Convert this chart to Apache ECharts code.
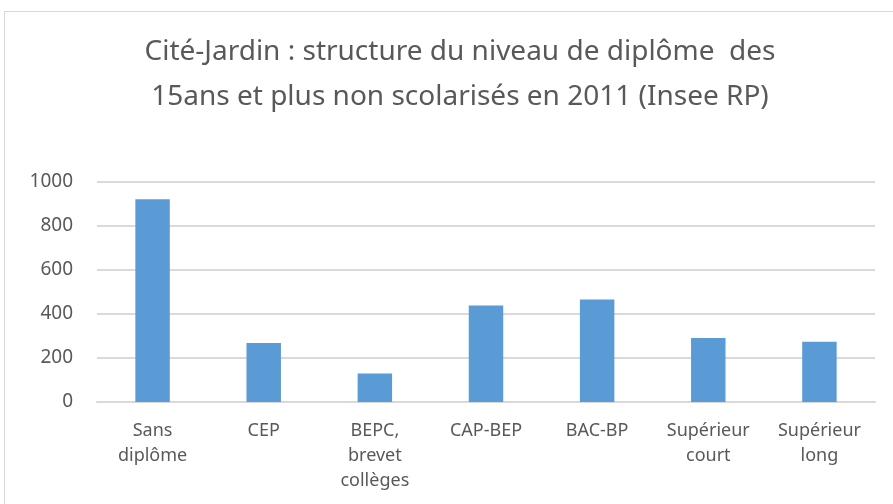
<!DOCTYPE html>
<html>
<head>
<meta charset="utf-8">
<script src="https://cdn.jsdelivr.net/npm/echarts@6/dist/echarts.min.js"></script>
<style>
html,body{margin:0;padding:0;background:#fff;}
#frame{position:absolute;left:4px;top:11px;width:900px;height:500px;border:1px solid #d9d9d9;box-sizing:border-box;}
#chart{position:absolute;left:0;top:0;width:893px;height:504px;}
</style>
</head>
<body>
<div id="frame"></div>
<div id="chart"></div>
<script>
// données
var categories = ['Sans\ndiplôme', 'CEP', 'BEPC,\nbrevet\ncollèges', 'CAP-BEP', 'BAC-BP', 'Supérieur\ncourt', 'Supérieur\nlong'];
var values = [922, 268, 129, 439, 466, 291, 274];
var yTicks = [0, 200, 400, 600, 800, 1000];

var titleText = 'Cité-Jardin : structure du niveau de diplôme  des\n15ans et plus non scolarisés en 2011 (Insee RP)';

var myChart = echarts.init(document.getElementById('chart'));
var option = {
    animation: false,
    title: {
        text: titleText,
        left: 455,
        textAlign: 'center',
        top: 25,
        textStyle: {
            fontFamily: 'Noto Sans',
            fontWeight: 'normal',
            fontSize: 28,
            lineHeight: 45,
            color: '#595959'
        }
    },
    grid: {left: 97, right: 18, top: 182, bottom: 102},
    xAxis: {
        type: 'category',
        data: categories,
        axisLine: {lineStyle: {color: '#d9d9d9', width: 2}},
        axisTick: {show: false},
        axisLabel: {
            interval: 0,
            color: '#595959',
            fontFamily: 'Noto Sans',
            fontSize: 18,
            lineHeight: 25,
            margin: 16
        }
    },
    yAxis: {
        type: 'value',
        min: yTicks[0],
        max: yTicks[yTicks.length - 1],
        interval: 200,
        axisLine: {show: false},
        axisTick: {show: false},
        splitLine: {lineStyle: {color: '#d9d9d9', width: 2}},
        axisLabel: {
            color: '#595959',
            fontFamily: 'Noto Sans',
            fontSize: 19,
            margin: 24,
            formatter: function (v) { return String(v); }
        }
    },
    series: [{
        type: 'bar',
        data: values,
        barWidth: '31%',
        itemStyle: {color: '#5b9bd5'}
    }]
};
myChart.setOption(option);
</script>
</body>
</html>
